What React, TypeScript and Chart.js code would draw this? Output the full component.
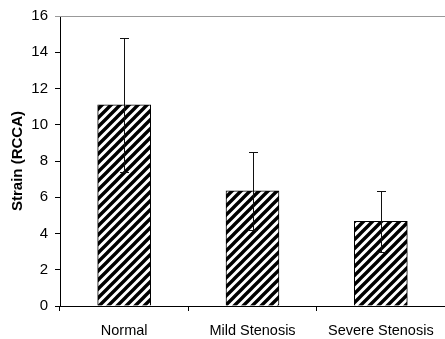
import React, { useEffect, useRef } from "react";
import { Chart, registerables } from "chart.js";

Chart.register(...registerables);

const categories = ["Normal", "Mild Stenosis", "Severe Stenosis"];
const strainValues = [11.1, 6.35, 4.67];
const strainErrors = [3.7, 2.16, 1.7];
const yTickMin = 0;
const yTickMax = 16;
const yTickStep = 2;

function makeStripePattern(): CanvasPattern | string {
  const s = 9;
  const c = document.createElement("canvas");
  c.width = s;
  c.height = s;
  const ctx = c.getContext("2d");
  if (!ctx) return "#000";
  ctx.fillStyle = "#fff";
  ctx.fillRect(0, 0, s, s);
  ctx.strokeStyle = "#000";
  ctx.lineWidth = 3.4;
  ctx.lineCap = "square";
  ctx.beginPath();
  ctx.moveTo(-2, s + 2);
  ctx.lineTo(s + 2, -2);
  ctx.moveTo(-2, 2);
  ctx.lineTo(2, -2);
  ctx.moveTo(s - 2, s + 2);
  ctx.lineTo(s + 2, s - 2);
  ctx.stroke();
  const p = ctx.createPattern(c, "repeat");
  return p || "#000";
}

const errorBarPlugin = {
  id: "errorBars",
  afterDatasetsDraw(chart: any) {
    const ctx = chart.ctx;
    const yScale = chart.scales.y;
    const meta = chart.getDatasetMeta(0);
    ctx.save();
    ctx.strokeStyle = "#111";
    ctx.lineWidth = 1;
    meta.data.forEach((bar: any, i: number) => {
      const v = strainValues[i];
      const e = strainErrors[i];
      const x = Math.round(bar.x) + 0.5;
      const yTop = Math.round(yScale.getPixelForValue(v + e)) + 0.5;
      const yBot = Math.round(yScale.getPixelForValue(v - e)) + 0.5;
      const cap = 4.5;
      ctx.beginPath();
      ctx.moveTo(x, yTop);
      ctx.lineTo(x, yBot);
      ctx.moveTo(x - cap, yTop);
      ctx.lineTo(x + cap, yTop);
      ctx.moveTo(x - cap, yBot);
      ctx.lineTo(x + cap, yBot);
      ctx.stroke();
    });
    ctx.restore();
  },
};

const topLinePlugin = {
  id: "topLine",
  afterDraw(chart: any) {
    const ctx = chart.ctx;
    const area = chart.chartArea;
    const y = Math.round(area.top) + 0.5;
    ctx.save();
    ctx.strokeStyle = "#999";
    ctx.lineWidth = 1;
    ctx.beginPath();
    ctx.moveTo(area.left - 5, y);
    ctx.lineTo(chart.width, y);
    ctx.stroke();
    ctx.restore();
  },
};

export default function App() {
  const ref = useRef<HTMLCanvasElement | null>(null);

  useEffect(() => {
    if (!ref.current) return;
    const font = "'Liberation Sans', Arial, sans-serif";
    const chart = new Chart(ref.current, {
      type: "bar",
      data: {
        labels: categories,
        datasets: [
          {
            data: strainValues,
            backgroundColor: makeStripePattern() as any,
            borderColor: "#000",
            borderWidth: 1,
            barThickness: 53,
          },
        ],
      },
      options: {
        responsive: false,
        animation: false,
        layout: { padding: { top: 13.5, right: -4, left: 0, bottom: 0 } },
        plugins: {
          legend: { display: false },
          tooltip: { enabled: false },
        },
        scales: {
          x: {
            grid: {
              display: true,
              drawOnChartArea: false,
              tickLength: 5,
              color: "#000",
              offset: true,
            },
            border: { display: true, color: "#000", width: 1 },
            ticks: {
              color: "#000",
              font: { family: font, size: 14.5 },
              padding: 11,
              maxRotation: 0,
              autoSkip: false,
            },
            afterFit(scale: any) {
              scale.height = 33;
            },
          },
          y: {
            min: yTickMin,
            max: yTickMax,
            grid: {
              display: true,
              drawOnChartArea: false,
              tickLength: 5,
              color: "#000",
            },
            border: { display: true, color: "#000", width: 1 },
            ticks: {
              stepSize: yTickStep,
              color: "#000",
              font: { family: font, size: 15 },
              padding: 7,
            },
            title: {
              display: true,
              text: "Strain (RCCA)",
              color: "#000",
              font: { family: font, size: 15, weight: "bold" },
              padding: { top: 9, bottom: 0 },
            },
            afterFit(scale: any) {
              scale.width = 60;
            },
          },
        },
      },
      plugins: [errorBarPlugin, topLinePlugin],
    });
    return () => chart.destroy();
  }, []);

  return (
    <div style={{ position: "absolute", left: 0, top: 0, width: 445, height: 339, background: "#fff" }}>
      <canvas ref={ref} width={445} height={339} style={{ display: "block" }} />
    </div>
  );
}
